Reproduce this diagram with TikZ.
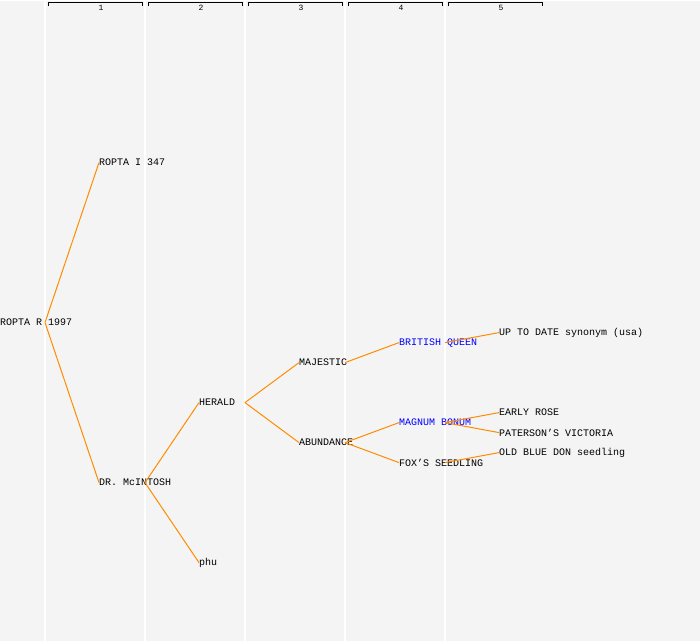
\documentclass[tikz,border=0pt]{standalone}
\usepackage{fontspec}
\setmonofont{Liberation Mono}
\usepackage{tikz}
\definecolor{bgrey}{HTML}{F4F4F4}
\definecolor{branch}{HTML}{FF8C00}
\tikzstyle{plant}  = [anchor=west, inner sep=0pt, outer sep=0pt, font=\ttfamily\fontsize{10}{10}\selectfont]
\tikzstyle{pblue}  = [plant, text=blue]
\tikzstyle{gen}    = [inner sep=0pt, font=\ttfamily\fontsize{8}{8}\selectfont]
\tikzstyle{link}   = [draw=branch, line width=1pt]
\tikzstyle{col}    = [draw=white, line width=1.2pt]

\begin{document}
\begin{tikzpicture}[x=1pt, y=-1pt]
  \fill[bgrey] (0,0) rectangle (700,640);
  \foreach \i in {1,...,5} {
    \draw[col] (\i*100-55, 0) -- (\i*100-55, 640);
    \draw[line width=1pt] (\i*100-52, 5) -- (\i*100-52, 2) -- (\i*100+42, 2) -- (\i*100+42, 5);
    \node[gen] (g\i) at (\i*100+1, 7.5) {\i};
  }
  % generations
  \node[plant] (ropta)     at (0, 322)   {ROPTA R 1997};
  \node[plant] (roptaI)    at (99, 162)  {ROPTA I 347};
  \node[plant] (mcintosh)  at (99, 482)  {DR. McINTOSH};
  \node[plant] (herald)    at (199, 402) {HERALD};
  \node[plant] (phu)       at (199, 562) {phu};
  \node[plant] (majestic)  at (299, 362) {MAJESTIC};
  \node[plant] (abundance) at (299, 442) {ABUNDANCE};
  \node[pblue] (queen)     at (399, 342) {BRITISH QUEEN};
  \node[pblue] (magnum)    at (399, 422) {MAGNUM BONUM};
  \node[plant] (fox)       at (399, 462) {FOX’S SEEDLING};
  \node[plant] (uptodate)  at (499, 332) {UP TO DATE synonym (usa)};
  \node[plant] (early)     at (499, 412) {EARLY ROSE};
  \node[plant] (paterson)  at (499, 432) {PATERSON’S VICTORIA};
  \node[plant] (oldblue)   at (499, 452) {OLD BLUE DON seedling};
  % branch points
  \coordinate (roptaV)     at (45, 322);
  \coordinate (mcintoshV)  at (145, 482);
  \coordinate (heraldV)    at (245, 402);
  \coordinate (majesticV)  at (345, 362);
  \coordinate (abundanceV) at (345, 442);
  \coordinate (queenV)     at (445, 342);
  \coordinate (magnumV)    at (445, 422);
  \coordinate (foxV)       at (445, 462);
  \foreach \a/\b in {roptaV/roptaI, roptaV/mcintosh, mcintoshV/herald, mcintoshV/phu,
                     heraldV/majestic, heraldV/abundance, majesticV/queen,
                     abundanceV/magnum, abundanceV/fox, queenV/uptodate,
                     magnumV/early, magnumV/paterson, foxV/oldblue}
    \draw[link] (\a) -- (\b.west);
\end{tikzpicture}
\end{document}
